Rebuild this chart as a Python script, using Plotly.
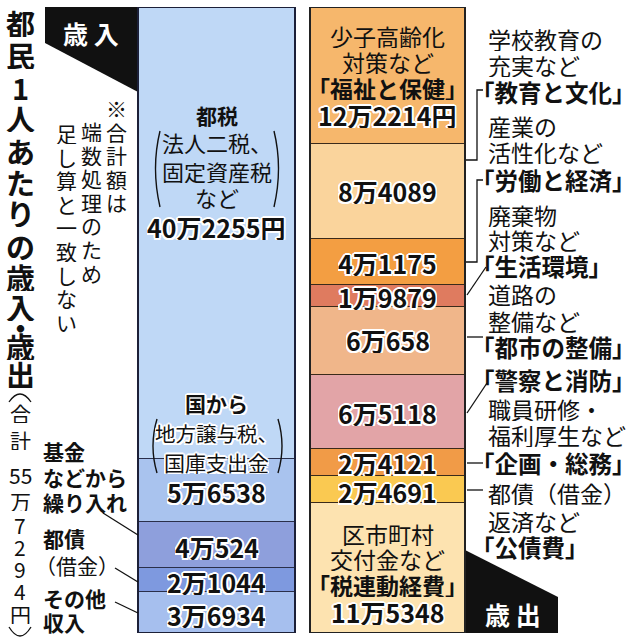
import plotly.graph_objects as go

# --- data -------------------------------------------------------------
rev_names = ["都税", "国から", "基金などから繰り入れ", "都債（借金）", "その他収入"]
rev_values = [402255, 56538, 40524, 21044, 36934]
rev_labels = ["40万2255円", "5万6538", "4万524", "2万1044", "3万6934"]
rev_colors = ["#bfd8f6", "#a9c3ee", "#8e9fdc", "#7e99df", "#a6bfee"]

exp_names = ["福祉と保健", "教育と文化", "労働と経済", "生活環境", "都市の整備",
             "警察と消防", "企画・総務", "公債費", "税連動経費"]
exp_values = [122214, 84089, 41175, 19879, 60658, 65118, 24121, 24691, 115348]
exp_labels = ["12万2214円", "8万4089", "4万1175", "1万9879", "6万658",
              "6万5118", "2万4121", "2万4691", "11万5348"]
exp_colors = ["#f6b76c", "#fad49c", "#f39e42", "#df7b5f", "#f0b68a",
              "#e2a4a7", "#f19b47", "#fac951", "#fde3b0"]

title = "都民1人あたりの歳入・歳出"
total_note = ["合", "計", "55", "万", "7", "2", "9", "4", "円"]

# --- layout constants ---------------------------------------------------
W, H = 636, 640
TOP, BOT = 7, 633
FONT = "Noto Sans CJK JP"
HALO = ("2px 0 0 #fff, -2px 0 0 #fff, 0 2px 0 #fff, 0 -2px 0 #fff, "
        "1.5px 1.5px 0 #fff, -1.5px -1.5px 0 #fff, 1.5px -1.5px 0 #fff, -1.5px 1.5px 0 #fff")
LX, LW = 216.5, 157   # left bar centre / width (px)
RX, RW = 387.5, 155   # right bar centre / width (px)


def py(y):
    # pixel row -> paper coordinate
    return (BOT - y) / (BOT - TOP)


def txt(x, y, s, size, bold=False, color="#111", halo=False, xanchor="center",
        yref="paper", yshift=0, h=None):
    a = dict(x=x, y=py(y) if yref == "paper" else y, xref="x", yref=yref,
             text=s, showarrow=False, xanchor=xanchor, yanchor="middle",
             yshift=yshift, borderpad=0,
             font=dict(family=FONT, size=size, color=color,
                       weight=700 if bold else 400,
                       shadow=HALO if halo else "none"))
    if h:
        a["height"] = h
    return a


def line(pts, width=1.3):
    d = "M " + " L ".join(f"{x},{py(y)}" for x, y in pts)
    return dict(type="path", path=d, xref="x", yref="paper",
                line=dict(color="#111", width=width))


def curve(x0, y0, xc, yc, x1, y1, width=1.4):
    return dict(type="path", xref="x", yref="paper",
                line=dict(color="#111", width=width),
                path=f"M {x0},{py(y0)} Q {xc},{py(yc)} {x1},{py(y1)}")


fig = go.Figure()

for v, c, n in zip(rev_values, rev_colors, rev_names):
    fig.add_trace(go.Bar(x=[LX], y=[v], width=LW, name=n, marker_color=c,
                         marker_line=dict(color="#2a2f4a", width=1),
                         showlegend=False, hoverinfo="skip"))
for v, c, n in zip(exp_values, exp_colors, exp_names):
    fig.add_trace(go.Bar(x=[RX], y=[v], width=RW, name=n, marker_color=c,
                         marker_line=dict(color="#3a2a1a", width=1),
                         showlegend=False, hoverinfo="skip"))

total = max(sum(rev_values), sum(exp_values))
ann = []

# value labels at segment middles
rev_shift = [6, -1, -2, -2, -3]
exp_shift = [-39, 1, -1, -1, 1, -1, -1, -2, -44]
cum = 0
for v, lab, s in zip(rev_values, rev_labels, rev_shift):
    ann.append(txt(LX, cum + v / 2, lab, 25, bold=True, halo=True, yref="y",
                   yshift=s, h=26))
    cum += v
cum = 0
for v, lab, s in zip(exp_values, exp_labels, exp_shift):
    ann.append(txt(RX, cum + v / 2, lab, 25, bold=True, halo=True, yref="y",
                   yshift=s, h=26))
    cum += v

# descriptive text inside bars
ann += [
    txt(LX, 115, "都税", 21, bold=True, h=24),
    txt(LX, 141, "法人二税、", 22, h=25),
    txt(LX, 170, "固定資産税", 22, h=25),
    txt(LX, 196, "など", 22, h=25),
    txt(LX, 403, "国から", 21, bold=True, halo=True, h=24),
    txt(LX, 433, "地方譲与税、", 20.5, halo=True, h=24),
    txt(LX, 462, "国庫支出金", 21, halo=True, h=24),
    txt(RX, 35, "少子高齢化", 23, h=25),
    txt(RX, 61, "対策など", 23, h=25),
    txt(RX, 88, "「福祉と保健」", 23, bold=True, h=25),
    txt(RX, 533, "区市町村", 23, h=25),
    txt(RX, 558, "交付金など", 23, h=25),
    txt(RX, 584, "「税連動経費」", 23, bold=True, h=25),
]

# labels on the right
right_lines = [
    (38, "学校教育の", False), (64, "充実など", False), (92, "「教育と文化」", True),
    (125, "産業の", False), (152, "活性化など", False), (180, "「労働と経済」", True),
    (214, "廃棄物", False), (239, "対策など", False), (266, "「生活環境」", True),
    (293, "道路の", False), (320, "整備など", False), (347, "「都市の整備」", True),
    (380, "「警察と消防」", True),
    (408, "職員研修・", False), (434, "福利厚生など", False), (463, "「企画・総務」", True),
    (492, "都債（借金）", False), (520, "返済など", False), (547, "「公債費」", True),
]
for y, s, b in right_lines:
    if s.startswith("「"):
        ann.append(txt(470, y, s, 23.5, bold=b, xanchor="left", h=26))
    else:
        ann.append(txt(487, y, s, 23, bold=b, xanchor="left", h=25))

# labels on the left
left_lines = [
    (451, "基金", True), (477, "などから", True), (502, "繰り入れ", True),
    (538, "都債", True), (565, "（借金）", False),
    (598, "その他", True), (622, "収入", True),
]
for y, s, b in left_lines:
    x = 34 if s.startswith("（") else 42
    ann.append(txt(x, y, s, 21, bold=b, xanchor="left", h=24))

# vertical title
title_y = [23, 55, 87, 118, 151, 182, 213, 246, 277, 307, 327, 346, 374]
for ch, y in zip(title, title_y):
    ann.append(txt(20, y, ch, 29, bold=True, h=28 if ch != "・" else 16))
note_y = [412, 439, 475, 500, 524, 546, 568, 590, 613]
for ch, y in zip(total_note, note_y):
    ann.append(txt(20, y, ch, 21, h=21))

# vertical footnote (three columns, right to left)
cols = [(116, 108, "※合計額は"), (91, 131, "端数処理のため"), (66, 133, "足し算と一致しない")]
for x, y0, s in cols:
    for i, ch in enumerate(s):
        ann.append(txt(x, y0 + i * 23.6, ch, 21, h=22))

# tabs
ann.append(txt(91, 33, "歳 入", 25, bold=True, color="#fff"))
ann.append(txt(513, 614, "歳 出", 25, bold=True, color="#fff"))

shapes = [
    dict(type="path", xref="x", yref="paper", fillcolor="#111", line=dict(width=0),
         path=f"M 45,{py(7)} L 138,{py(7)} L 138,{py(92)} L 45,{py(43)} Z"),
    dict(type="path", xref="x", yref="paper", fillcolor="#111", line=dict(width=0),
         path=f"M 465,{py(550)} L 558,{py(597)} L 558,{py(633)} L 465,{py(633)} Z"),
    dict(type="rect", xref="x", yref="y", x0=LX - LW / 2, x1=LX + LW / 2,
         y0=0, y1=sum(rev_values), line=dict(color="#1c2038", width=2)),
    dict(type="rect", xref="x", yref="y", x0=RX - RW / 2, x1=RX + RW / 2,
         y0=0, y1=sum(exp_values), line=dict(color="#222", width=2)),
    # parentheses around the sub-labels
    curve(160, 131, 151, 168, 160, 207),
    curve(274, 131, 283, 168, 274, 207),
    curve(157, 419, 149, 446, 157, 473),
    curve(278, 419, 286, 446, 278, 473),
    # vertical parentheses of the total note
    curve(9, 402, 20, 386, 31, 402, 1.3),
    curve(9, 627, 20, 645, 31, 627, 1.3),
    # leader lines
    line([(466, 160), (477, 160), (477, 90), (483, 90)]),
    line([(466, 262), (477, 262), (477, 180), (483, 180)]),
    line([(467, 295), (486, 267)]),
    line([(467, 337), (483, 337)]),
    line([(467, 413), (487, 383)]),
    line([(467, 463), (483, 463)]),
    line([(467, 490), (483, 490)]),
    line([(103, 513), (138, 535)]),
    line([(115, 568), (138, 582)]),
    line([(115, 602), (138, 613)]),
]

fig.update_layout(
    width=W, height=H, barmode="stack", bargap=0,
    margin=dict(l=0, r=0, t=TOP, b=H - BOT),
    paper_bgcolor="white", plot_bgcolor="white",
    xaxis=dict(range=[0, W], visible=False, fixedrange=True),
    yaxis=dict(range=[total, 0], visible=False, fixedrange=True),
    annotations=ann, shapes=shapes,
)

# the page body has a default 8px margin; drop it so the figure sits at 0,0
fig.write_html("out.html", config={"displayModeBar": False},
               post_script="document.body.style.margin='0';")
